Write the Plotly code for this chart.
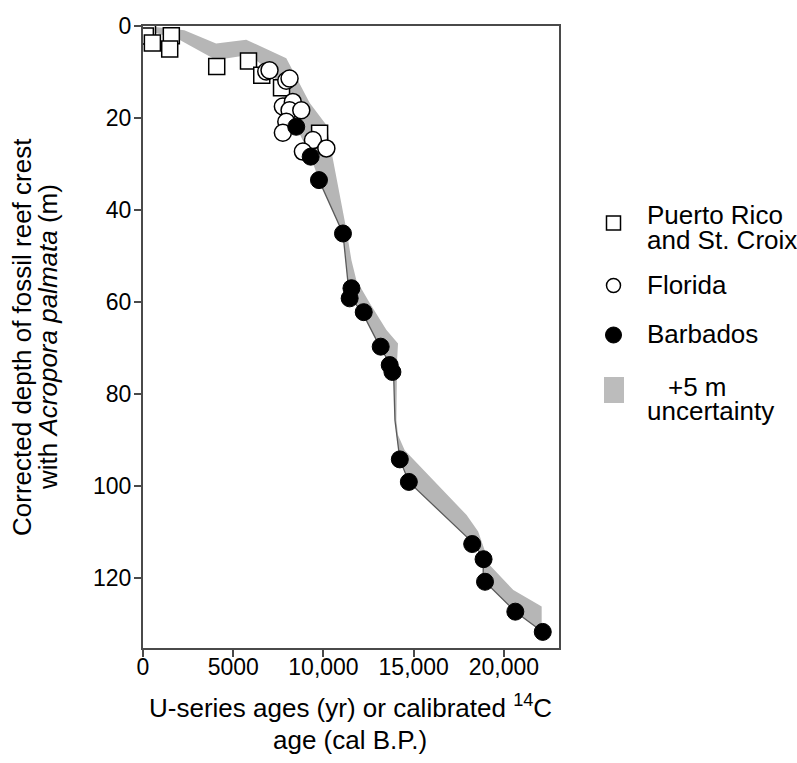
import plotly.graph_objects as go

# ---------------- data ----------------
pr_age = [250, 130, 520, 1570, 1480, 4085, 5845, 6580, 7675, 9785]
pr_depth = [1.1, 2.2, 3.7, 2.1, 5.0, 8.8, 7.6, 10.7, 13.4, 23.3]

fl_age = [6830, 7010, 7940, 8120, 7750, 8300, 8120, 8770, 7940, 7750, 9415, 10160, 8860]
fl_depth = [9.9, 9.6, 11.9, 11.4, 17.5, 16.5, 18.3, 18.3, 20.8, 23.2, 24.8, 26.6, 27.3]

bb_age = [8490, 9290, 9750, 11080, 11550, 11450, 12230, 13170, 13670, 13820,
          14230, 14730, 18240, 18870, 18950, 20630, 22150]
bb_depth = [21.9, 28.4, 33.5, 45.1, 57.0, 59.2, 62.2, 69.7, 73.7, 75.2,
            94.2, 99.1, 112.6, 115.9, 120.8, 127.3, 131.7]

# uncertainty band: shallow edge and deep edge (top to bottom)
band_upper_age = [200, 2290, 4050, 5720, 7940, 8490, 9230, 10160, 10900, 11270, 11550,
                  11820, 12560, 13490, 14130, 14080, 14040, 14130, 14500, 17930, 18570,
                  18850, 19220, 20520, 22090, 22090]
band_upper_depth = [0.0, 0.9, 3.8, 3.0, 7.0, 11.0, 16.7, 21.5, 36.3, 44.3, 50.9,
                    55.2, 60.2, 66.1, 69.0, 72.6, 85.7, 88.9, 92.2, 106.3, 109.9,
                    113.2, 117.2, 122.6, 126.2, 130.6]
band_lower_age = [200, 2015, 4050, 5845, 6620, 7380, 8490, 9290, 9750, 11080, 11360,
                  11620, 12170, 13120, 13670, 13890, 13960, 14040, 14230, 14730, 18110,
                  18850, 18850, 20630, 22150]
band_lower_depth = [0.9, 3.0, 7.4, 6.3, 8.5, 11.7, 21.9, 28.4, 33.5, 45.1, 55.9,
                    59.6, 62.4, 69.7, 73.3, 76.2, 85.7, 88.5, 94.2, 99.1, 111.7,
                    115.4, 120.4, 127.3, 131.7]

x_tickvals = [0, 5000, 10000, 15000, 20000]
x_ticktext = ["0", "5000", "10,000", "15,000", "20,000"]
y_tickvals = [0, 20, 40, 60, 80, 100, 120]
y_ticktext = ["0", "20", "40", "60", "80", "100", "120"]

# ---------------- figure ----------------
W, H = 797, 763
L, R, T, B = 143, 559, 26, 648
FONT = "Liberation Sans, Arial, Helvetica, sans-serif"


def px(x):
    return (x - L) / (R - L)


def py(y):
    return (B - y) / (B - T)


fig = go.Figure()

fig.add_trace(go.Scatter(
    x=band_upper_age + band_lower_age[::-1],
    y=band_upper_depth + band_lower_depth[::-1],
    fill="toself", fillcolor="#b6b6b6", line=dict(width=0),
    mode="lines", hoverinfo="skip", showlegend=False))

fig.add_trace(go.Scatter(
    x=band_lower_age[8:], y=band_lower_depth[8:], mode="lines",
    line=dict(color="#5a5a5a", width=1.3), hoverinfo="skip", showlegend=False))

fig.add_trace(go.Scatter(
    x=pr_age, y=pr_depth, mode="markers", showlegend=False,
    marker=dict(symbol="square", size=16, color="white",
                line=dict(color="black", width=1.5))))

fig.add_trace(go.Scatter(
    x=fl_age, y=fl_depth, mode="markers", showlegend=False,
    marker=dict(symbol="circle", size=17, color="white",
                line=dict(color="black", width=1.5))))

fig.add_trace(go.Scatter(
    x=bb_age, y=bb_depth, mode="markers", showlegend=False,
    marker=dict(symbol="circle", size=17, color="black",
                line=dict(color="black", width=1))))

axis_common = dict(showgrid=False, zeroline=False, showline=True, mirror=True,
                   linecolor="#4a4a4a", linewidth=2, ticks="outside", ticklen=7,
                   tickwidth=1.5, tickcolor="#4a4a4a",
                   tickfont=dict(family=FONT, size=23, color="black"))

fig.update_xaxes(range=[0, 23050], tickvals=x_tickvals, ticktext=x_ticktext,
                 ticklabelstandoff=-10, **axis_common)
fig.update_yaxes(range=[135.2, 0], tickvals=y_tickvals, ticktext=y_ticktext,
                 ticklabelstandoff=-2, **axis_common)

shapes = []
annotations = []

# legend (manual)
shapes.append(dict(type="rect", xref="paper", yref="paper",
                   x0=px(606.5), x1=px(620.5), y0=py(230), y1=py(216),
                   line=dict(color="black", width=1.5), fillcolor="white"))
shapes.append(dict(type="circle", xref="paper", yref="paper",
                   x0=px(606.5), x1=px(620.5), y0=py(292.5), y1=py(278.5),
                   line=dict(color="black", width=1.5), fillcolor="white"))
shapes.append(dict(type="circle", xref="paper", yref="paper",
                   x0=px(605.5), x1=px(621.5), y0=py(343), y1=py(327),
                   line=dict(color="black", width=1), fillcolor="black"))
shapes.append(dict(type="rect", xref="paper", yref="paper",
                   x0=px(604), x1=px(624), y0=py(403), y1=py(377),
                   line=dict(width=0), fillcolor="#bcbcbc"))

leg_font = dict(family=FONT, size=26, color="black")
for text, x, y in [("Puerto Rico", 645, 215), ("and St. Croix", 645, 240),
                   ("Florida", 645, 285), ("Barbados", 645, 334),
                   ("+5 m", 666, 387), ("uncertainty", 645, 411)]:
    annotations.append(dict(text=text, x=px(x), y=py(y), xref="paper", yref="paper",
                            xanchor="left", yanchor="middle", showarrow=False,
                            font=leg_font))

# axis titles
annotations.append(dict(text="U-series ages (yr) or calibrated <sup>14</sup>C",
                        x=px(350), y=py(706), xref="paper", yref="paper",
                        xanchor="center", yanchor="middle", showarrow=False,
                        font=leg_font))
annotations.append(dict(text="age (cal B.P.)",
                        x=px(350), y=py(740), xref="paper", yref="paper",
                        xanchor="center", yanchor="middle", showarrow=False,
                        font=leg_font))
annotations.append(dict(text="Corrected depth of fossil reef crest",
                        x=px(22), y=py(337), xref="paper", yref="paper",
                        xanchor="center", yanchor="middle", textangle=-90,
                        showarrow=False, font=leg_font))
annotations.append(dict(text="with <i>Acropora palmata</i> (m)",
                        x=px(48), y=py(337), xref="paper", yref="paper",
                        xanchor="center", yanchor="middle", textangle=-90,
                        showarrow=False, font=leg_font))

fig.update_layout(width=W, height=H, margin=dict(l=L, r=W - R, t=T, b=H - B),
                  plot_bgcolor="white", paper_bgcolor="white",
                  shapes=shapes, annotations=annotations, showlegend=False,
                  font=dict(family=FONT, color="black"))

fig.write_html("out.html")
